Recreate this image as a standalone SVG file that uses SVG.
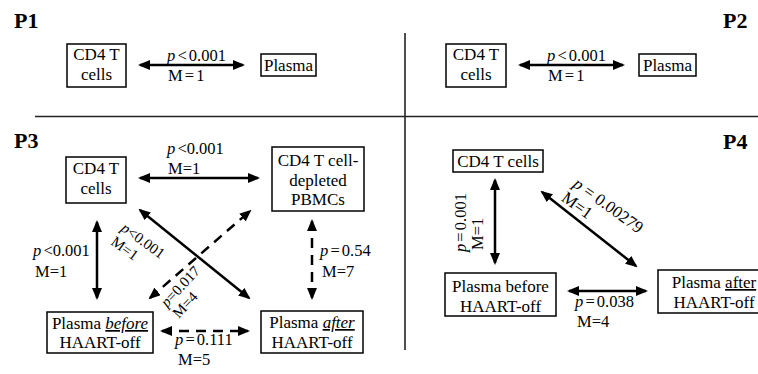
<svg xmlns="http://www.w3.org/2000/svg" width="758" height="374" viewBox="0 0 758 374">
<style>
  text { font-family: "Liberation Serif", "DejaVu Serif", "Noto Serif", "Times New Roman", Times, serif; fill: #000; }
  .panel { font-size: 22px; font-weight: bold; }
  .node text { font-size: 17px; text-anchor: middle; }
  .node rect { fill: #fff; stroke: #000; stroke-width: 1.5; }
  .lbl { font-size: 16.5px; word-spacing: -2px; }
  .rl { font-size: 15px; word-spacing: -2px; }
  .rl2 { font-size: 17px; }
  .sep { stroke: #222; stroke-width: 1.6; fill: none; }
  .conn line { stroke: #000; stroke-width: 2.5; marker-start: url(#ah); marker-end: url(#ah); }
  .conn line.dash { stroke-dasharray: 10 7; }
</style>
<defs>
  <marker id="ah" markerUnits="userSpaceOnUse" viewBox="0 0 12 10" refX="10" refY="5" markerWidth="12" markerHeight="10" orient="auto-start-reverse">
    <path d="M0,0 L12,5 L0,10 Z" fill="#000" stroke="none"/>
  </marker>
</defs>
<rect width="758" height="374" fill="#fff"/>

<!-- separators -->
<g id="separators">
  <line class="sep" x1="35" y1="116.5" x2="758" y2="116.5"/>
  <line class="sep" x1="405" y1="33" x2="405" y2="350"/>
</g>

<!-- panel labels -->
<g id="panel-labels">
  <text class="panel" x="14" y="28">P1</text>
  <text class="panel" x="723" y="28">P2</text>
  <text class="panel" x="14" y="148">P3</text>
  <text class="panel" x="723" y="149">P4</text>
</g>

<!-- P1 nodes -->
<g id="p1-cd4" class="node">
  <rect x="67" y="44" width="59" height="43"/>
  <text x="96.5" y="60">CD4 T</text>
  <text x="96.5" y="80">cells</text>
</g>
<g id="p1-plasma" class="node">
  <rect x="261" y="54" width="55" height="22"/>
  <text x="288.5" y="71">Plasma</text>
</g>

<!-- P2 nodes -->
<g id="p2-cd4" class="node">
  <rect x="446" y="44" width="60" height="43"/>
  <text x="476" y="60">CD4 T</text>
  <text x="476" y="80">cells</text>
</g>
<g id="p2-plasma" class="node">
  <rect x="639" y="54" width="57" height="22"/>
  <text x="667.5" y="71">Plasma</text>
</g>

<!-- P3 nodes -->
<g id="p3-cd4" class="node">
  <rect x="66" y="157" width="60" height="46"/>
  <text x="96" y="174">CD4 T</text>
  <text x="96" y="194">cells</text>
</g>
<g id="p3-depleted" class="node">
  <rect x="272" y="147" width="92" height="64"/>
  <text x="318" y="166">CD4 T cell-</text>
  <text x="318" y="186">depleted</text>
  <text x="318" y="205">PBMCs</text>
</g>
<g id="p3-before" class="node">
  <rect x="47" y="312" width="106" height="41"/>
  <text x="100" y="329">Plasma <tspan font-style="italic" text-decoration="underline">before</tspan></text>
  <text x="100" y="348">HAART-off</text>
</g>
<g id="p3-after" class="node">
  <rect x="261" y="311" width="102" height="42"/>
  <text x="312" y="328">Plasma <tspan font-style="italic" text-decoration="underline">after</tspan></text>
  <text x="312" y="348">HAART-off</text>
</g>

<!-- P4 nodes -->
<g id="p4-cd4" class="node">
  <rect x="453" y="150" width="90" height="22"/>
  <text x="498" y="167">CD4 T cells</text>
</g>
<g id="p4-before" class="node">
  <rect x="445" y="273" width="111" height="43"/>
  <text x="500.5" y="292">Plasma before</text>
  <text x="500.5" y="312">HAART-off</text>
</g>
<g id="p4-after" class="node">
  <rect x="658" y="270" width="112" height="43"/>
  <text x="714" y="288">Plasma <tspan text-decoration="underline">after</tspan></text>
  <text x="714" y="308">HAART-off</text>
</g>

<!-- connectors -->
<g id="connectors" class="conn">
  <line x1="140" y1="65" x2="243" y2="65"/>
  <line x1="520" y1="65" x2="623" y2="65"/>
  <line x1="140" y1="178" x2="258" y2="178"/>
  <line x1="97" y1="222" x2="97" y2="298"/>
  <line class="dash" x1="312" y1="221" x2="312" y2="298"/>
  <line class="dash" x1="162" y1="331" x2="248" y2="331"/>
  <line x1="140" y1="210" x2="249" y2="298"/>
  <line class="dash" x1="150" y1="298" x2="250" y2="211"/>
  <line x1="495" y1="180" x2="495" y2="263"/>
  <line x1="542" y1="192" x2="636" y2="266"/>
  <line x1="569" y1="291" x2="646" y2="291"/>
</g>

<!-- connector labels -->
<g id="labels">
  <text class="lbl" x="167" y="61"><tspan font-style="italic">p</tspan> &lt; 0.001</text>
  <text class="lbl" x="168" y="81">M = 1</text>
  <text class="lbl" x="547" y="61"><tspan font-style="italic">p</tspan> &lt; 0.001</text>
  <text class="lbl" x="548" y="81">M = 1</text>

  <text class="lbl" x="167" y="154"><tspan font-style="italic">p</tspan> &lt;0.001</text>
  <text class="lbl" x="168" y="174">M=1</text>
  <text class="lbl" x="33" y="256"><tspan font-style="italic">p</tspan> &lt;0.001</text>
  <text class="lbl" x="35" y="277">M=1</text>
  <text class="lbl" x="320" y="256"><tspan font-style="italic">p</tspan> = 0.54</text>
  <text class="lbl" x="322" y="277">M=7</text>
  <text class="lbl" x="175" y="345"><tspan font-style="italic">p</tspan> = 0.111</text>
  <text class="lbl" x="178" y="365">M=5</text>
  <g transform="translate(120,230) rotate(36)">
    <text class="rl" x="0" y="0"><tspan font-style="italic">p</tspan>&lt;0.001</text>
    <text class="rl" x="0" y="17">M=1</text>
  </g>
  <g transform="translate(167,308) rotate(-47)">
    <text class="rl" x="0" y="0"><tspan font-style="italic">p</tspan>=0.017</text>
    <text class="rl" x="0" y="16">M=4</text>
  </g>

  <g transform="translate(466,252) rotate(-90)">
    <text class="lbl" x="0" y="0"><tspan font-style="italic">p</tspan> = 0.001</text>
    <text class="lbl" x="2" y="17">M=1</text>
  </g>
  <g transform="translate(572,186) rotate(36)">
    <text class="rl2" x="0" y="0"><tspan font-style="italic">p</tspan> = 0.00279</text>
    <text class="rl2" x="-1" y="18">M=1</text>
  </g>
  <text class="lbl" x="575" y="307"><tspan font-style="italic">p</tspan> = 0.038</text>
  <text class="lbl" x="577" y="327">M=4</text>
</g>
</svg>
